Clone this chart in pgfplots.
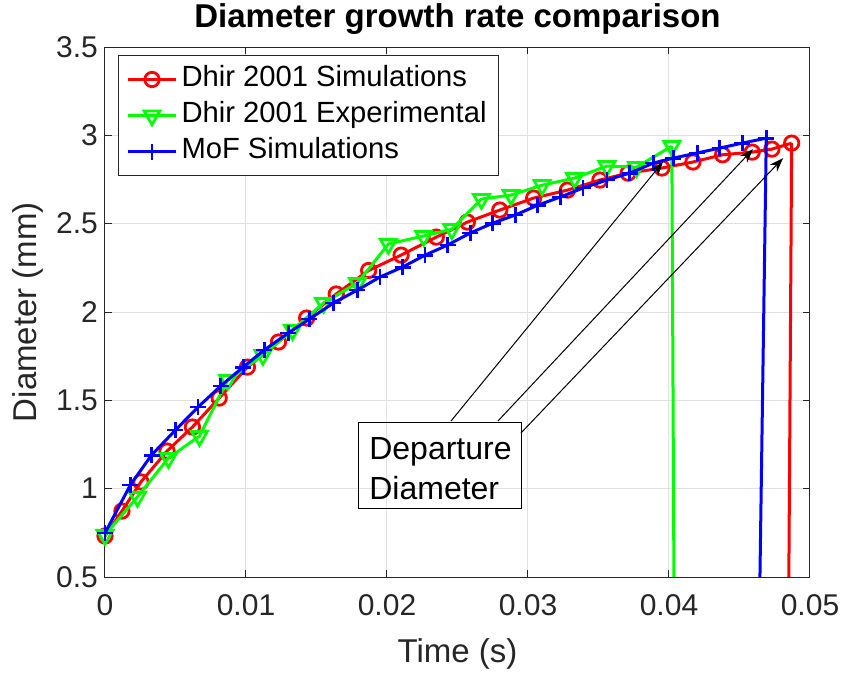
\documentclass[border=0pt]{standalone}
\usepackage{pgfplots}
\pgfplotsset{compat=1.18}
\usepackage{fontspec}
\setmainfont{Liberation Sans}
\usetikzlibrary{arrows.meta}
\definecolor{axgray}{rgb}{0.15,0.15,0.15}
\definecolor{gridgray}{rgb}{0.88,0.88,0.88}
\begin{document}
\begin{tikzpicture}
\path[use as bounding box] (-52.5pt,-49.5pt) rectangle (370pt,288.5pt);
\begin{axis}[
  at={(0,0)}, anchor=south west,
  scale only axis, width=352.5pt, height=265pt,
  xmin=0, xmax=0.05, ymin=0.5, ymax=3.5,
  xtick={0,0.01,0.02,0.03,0.04,0.05},
  xticklabels={0,0.01,0.02,0.03,0.04,0.05},
  ytick={0.5,1,1.5,2,2.5,3,3.5},
  yticklabels={0.5,1,1.5,2,2.5,3,3.5},
  scaled x ticks=false,
  /pgf/number format/assume math mode=true,
  grid=major,
  major grid style={gridgray, line width=0.5pt},
  tick align=inside,
  major tick length=3.5pt,
  tick style={axgray, line width=0.5pt},
  axis line style={axgray, line width=0.5pt},
  ticklabel style={font=\fontsize{15}{18}\selectfont, text=axgray},
  xticklabel style={yshift=-5pt},
  xlabel={Time (s)},
  ylabel={Diameter (mm)},
  xlabel style={at={(axis description cs:0.5,0)}, anchor=center, yshift=-38.5pt, font=\fontsize{16.5}{19}\selectfont, text=axgray},
  ylabel style={at={(axis description cs:0,0.5)}, anchor=center, yshift=38.5pt, font=\fontsize{16.5}{19}\selectfont, text=axgray},
  title={Diameter growth rate comparison},
  title style={at={(axis description cs:0.5,1)}, anchor=center, yshift=8pt, font=\bfseries\fontsize{16.5}{19}\selectfont},
  clip mode=individual,
  legend style={at={(axis description cs:0,1)}, anchor=north west, xshift=6.5pt, yshift=-4pt,
    draw=axgray, line width=0.5pt, fill=white, font=\fontsize{14.6}{17}\selectfont,
    inner xsep=4pt, inner ysep=3pt,
    nodes={text height=10.7pt, text depth=3.3pt, inner sep=2pt}},
  legend cell align=left,
  legend image code/.code={\draw[mark repeat=2,mark phase=2] plot coordinates {(0pt,0pt) (12pt,0pt) (24pt,0pt)};},
]
\addplot[red, line width=1.5pt, mark=o, mark size=3.6pt, mark options={line width=1.4pt}] coordinates {
(0,0.732) (0.0012,0.873) (0.00255,1.038) (0.0044,1.213) (0.0062,1.349) (0.0081,1.513)
(0.0101,1.688) (0.0123,1.830) (0.0143,1.966) (0.0164,2.102) (0.0187,2.235) (0.0210,2.322)
(0.0235,2.424) (0.0257,2.509) (0.0280,2.577) (0.0304,2.645) (0.0328,2.690) (0.0351,2.747)
(0.0371,2.786) (0.0395,2.815) (0.0417,2.849) (0.0438,2.890) (0.0459,2.905) (0.0473,2.922)
(0.0487,2.956)};
\addlegendentry{Dhir 2001 Simulations}
\addplot[red, line width=1.5pt, forget plot] coordinates {(0.0487,2.956) (0.0485,0.5)};
\addplot[green, line width=1.5pt, mark=triangle, mark size=4.6pt, mark options={rotate=180, line width=1.4pt}] coordinates {
(0,0.738) (0.0023,0.953) (0.0045,1.173) (0.0067,1.298) (0.0087,1.615) (0.0112,1.756)
(0.0133,1.898) (0.0155,2.051) (0.0179,2.164) (0.0201,2.385) (0.0226,2.430) (0.0246,2.469)
(0.0267,2.639) (0.0288,2.662) (0.0310,2.718) (0.0333,2.758) (0.0356,2.826) (0.0377,2.820)
(0.0402,2.939)};
\addlegendentry{Dhir 2001 Experimental}
\addplot[green, line width=1.5pt, forget plot] coordinates {(0.0402,2.939) (0.04035,0.5)};
\addplot[blue, line width=1.5pt, mark=+, mark size=4pt, mark options={line width=1.4pt}] coordinates {
(0,0.749) (0.0018,1.021) (0.0033,1.190) (0.0050,1.332) (0.0066,1.462) (0.0082,1.581)
(0.0098,1.688) (0.0113,1.785) (0.0130,1.881) (0.0145,1.960) (0.0162,2.051) (0.0179,2.124)
(0.0195,2.198) (0.0211,2.254) (0.0227,2.322) (0.0243,2.379) (0.0259,2.447) (0.0275,2.503)
(0.0291,2.549) (0.0307,2.605) (0.0323,2.651) (0.0339,2.702) (0.0356,2.747) (0.0372,2.786)
(0.0389,2.843) (0.0403,2.871) (0.0420,2.900) (0.0436,2.928) (0.0452,2.956) (0.0469,2.984)};
\addlegendentry{MoF Simulations}
\addplot[blue, line width=1.5pt, forget plot] coordinates {(0.0469,2.984) (0.04645,0.5)};
% annotation
\draw[black, line width=0.5pt, -{Stealth[length=7pt,width=5pt]}] (axis cs:0.02454,1.383) -- (axis cs:0.03957,2.849);
\draw[black, line width=0.5pt, -{Stealth[length=7pt,width=5pt]}] (axis cs:0.02787,1.383) -- (axis cs:0.04596,2.922);
\draw[black, line width=0.5pt, -{Stealth[length=7pt,width=5pt]}] (axis cs:0.0295,1.315) -- (axis cs:0.04809,2.871);
\draw[black, line width=0.5pt] (axis cs:0.01801,1.372) rectangle (axis cs:0.02957,0.890);
\node[anchor=north west, align=left, inner sep=0pt, font=\fontsize{16}{20}\selectfont] at (axis cs:0.01872,1.292) {Departure\\Diameter};
\end{axis}
\end{tikzpicture}
\end{document}
